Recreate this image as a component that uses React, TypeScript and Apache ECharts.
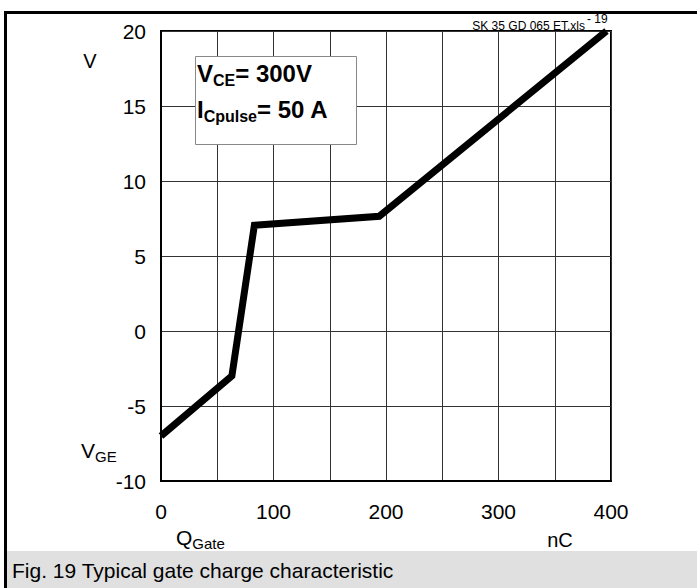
import React, { useEffect, useRef } from "react";
import * as echarts from "echarts";

const qGate = [0, 63, 83, 194, 396];
const vGE = [-7, -3, 7.05, 7.65, 20];
const xLabelValues = [0, 100, 200, 300, 400];
const yRange = [-10, 20];
const xRange = [0, 400];

const FONT = "'Liberation Sans', Arial, Helvetica, sans-serif";

export default function App() {
  const ref = useRef<HTMLDivElement>(null);
  useEffect(() => {
    document.body.style.margin = "0";
    const chart = echarts.init(ref.current!, null, { renderer: "svg" });
    const boxRich = {
      v: { fontSize: 24, fontWeight: "bold", fontFamily: FONT, fill: "#000", verticalAlign: "bottom" },
      s: { fontSize: 16, fontWeight: "bold", fontFamily: FONT, fill: "#000", verticalAlign: "bottom", padding: [0, 0, -3, 0] },
    };
    const labRich = {
      v: { fontSize: 21, fontFamily: FONT, fill: "#000", verticalAlign: "bottom" },
      s: { fontSize: 15, fontFamily: FONT, fill: "#000", verticalAlign: "bottom", padding: [0, 0, -3, 0] },
    };
    chart.setOption({
      animation: false,
      backgroundColor: "#ffffff",
      textStyle: { fontFamily: FONT },
      grid: {
        left: 161,
        top: 31,
        width: 450,
        height: 450,
        show: true,
        borderColor: "#000",
        borderWidth: 2,
        backgroundColor: "transparent",
      },
      xAxis: {
        type: "value",
        min: xRange[0],
        max: xRange[1],
        interval: 50,
        axisLine: { show: true, onZero: false, lineStyle: { color: "#000", width: 2 } },
        axisTick: { show: false },
        splitLine: { show: true, lineStyle: { color: "#333", width: 1 } },
        axisLabel: {
          margin: 20,
          fontSize: 21,
          color: "#000",
          fontFamily: FONT,
          formatter: (v: number) => (xLabelValues.includes(v) ? String(v) : ""),
        },
      },
      yAxis: {
        type: "value",
        min: yRange[0],
        max: yRange[1],
        interval: 5,
        axisLine: { show: true, onZero: false, lineStyle: { color: "#000", width: 2 } },
        axisTick: { show: false },
        splitLine: { show: true, lineStyle: { color: "#333", width: 1 } },
        axisLabel: { margin: 15, fontSize: 21, color: "#000", fontFamily: FONT },
      },
      series: [
        {
          type: "line",
          data: qGate.map((q, i) => [q, vGE[i]]),
          symbol: "none",
          lineStyle: { color: "#000", width: 7, join: "miter" },
          z: 5,
        },
      ],
      graphic: [
        { type: "rect", shape: { x: 4, y: 11, width: 3, height: 577 }, style: { fill: "#000" }, z: 10 },
        { type: "rect", shape: { x: 4, y: 11, width: 693, height: 3 }, style: { fill: "#000" }, z: 10 },
        { type: "rect", shape: { x: 7, y: 551, width: 690, height: 37 }, style: { fill: "#e0e0e0" }, z: 10 },
        {
          type: "text",
          x: 12,
          y: 570,
          style: {
            text: "Fig. 19 Typical gate charge characteristic",
            fontSize: 21,
            fontFamily: FONT,
            fill: "#000",
            verticalAlign: "middle",
          },
          z: 11,
        },
        {
          type: "rect",
          shape: { x: 195.5, y: 56.5, width: 161, height: 88 },
          style: { fill: "#fff", stroke: "#888", lineWidth: 1 },
          z: 10,
        },
        {
          type: "text",
          x: 197,
          y: 85,
          style: { text: "{v|V}{s|CE}{v|= 300V}", verticalAlign: "bottom", fontFamily: FONT, rich: boxRich },
          z: 11,
        },
        {
          type: "text",
          x: 197,
          y: 121,
          style: { text: "{v|I}{s|Cpulse}{v|= 50 A}", verticalAlign: "bottom", fontFamily: FONT, rich: boxRich },
          z: 11,
        },
        {
          type: "text",
          x: 585,
          y: 32,
          style: { text: "SK 35 GD 065 ET.xls", fontSize: 12, fontFamily: FONT, fill: "#000", align: "right", verticalAlign: "bottom" },
          z: 11,
        },
        {
          type: "text",
          x: 587,
          y: 25,
          style: { text: "- 19", fontSize: 12, fontFamily: FONT, fill: "#000", align: "left", verticalAlign: "bottom" },
          z: 11,
        },
        {
          type: "text",
          x: 90,
          y: 61,
          style: { text: "V", fontSize: 20, fontFamily: FONT, fill: "#000", align: "center", verticalAlign: "middle" },
          z: 11,
        },
        {
          type: "text",
          x: 81,
          y: 461,
          style: { text: "{v|V}{s|GE}", verticalAlign: "bottom", rich: labRich },
          z: 11,
        },
        {
          type: "text",
          x: 176,
          y: 548,
          style: { text: "{v|Q}{s|Gate}", verticalAlign: "bottom", rich: labRich },
          z: 11,
        },
        {
          type: "text",
          x: 560,
          y: 540,
          style: { text: "nC", fontSize: 20, fontFamily: FONT, fill: "#000", align: "center", verticalAlign: "middle" },
          z: 11,
        },
      ],
    });
    return () => chart.dispose();
  }, []);
  return <div ref={ref} style={{ width: 697, height: 588 }} />;
}
